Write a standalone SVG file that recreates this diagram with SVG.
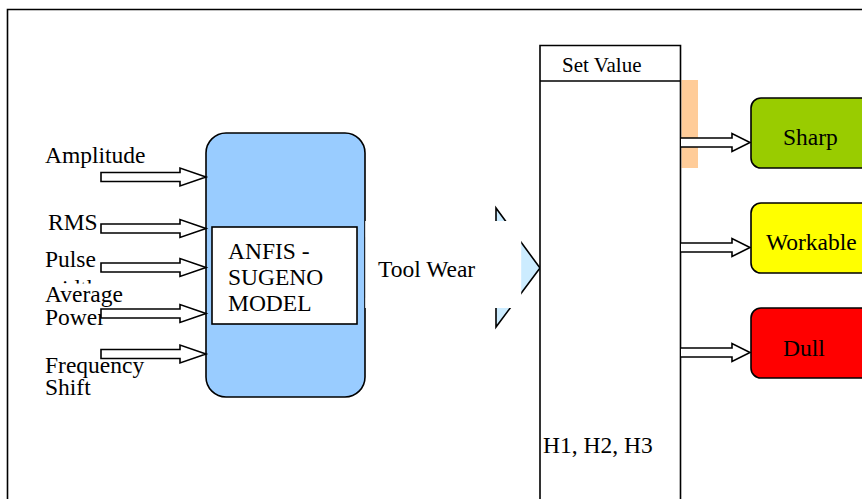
<svg xmlns="http://www.w3.org/2000/svg" width="862" height="499" viewBox="0 0 862 499">
<style>
.t{font-family:"Liberation Serif","Times New Roman",serif;font-size:23.5px;fill:#000}
.sv{font-size:21px}
.ln{stroke:#000;stroke-width:1.6;fill:none}
.arr{fill:#fff;stroke:#000;stroke-width:1.6;stroke-linejoin:miter}
</style>
<defs>
<clipPath id="clipW"><rect x="30" y="270" width="120" height="13.5"/></clipPath>
</defs>
<rect width="862" height="499" fill="#fff"/>
<g id="frame"><path class="ln" d="M7.5 510 V9.5 H880"/></g>

<g id="inputs">
<text class="t" x="45" y="163">Amplitude</text>
<text class="t" x="48" y="230">RMS</text>
<text class="t" x="45" y="267">Pulse</text>
<text class="t" x="45" y="296" clip-path="url(#clipW)">width</text>
<text class="t" x="45" y="302">Average</text>
<text class="t" x="45" y="325">Power</text>
<text class="t" x="45" y="373">Frequency</text>
<text class="t" x="45" y="395">Shift</text>
</g>

<g id="toolwear-arrow">
<path d="M365 238 H496 V208 L540 268 L496 327 V297 H365 Z" fill="#CCECFF" stroke="#000" stroke-width="1.6"/>
</g>

<g id="anfis">
<rect x="206" y="133" width="159" height="264" rx="20" ry="20" fill="#99CCFF" stroke="#000" stroke-width="1.6"/>
<rect x="212" y="227" width="145" height="97" fill="#fff" stroke="#000" stroke-width="1.6"/>
<text class="t" x="228" y="259">ANFIS -</text>
<text class="t" x="228" y="285">SUGENO</text>
<text class="t" x="228" y="311">MODEL</text>
</g>

<g id="toolwear-label">
<rect x="365.2" y="221" width="156" height="87" fill="#fff"/>
<text class="t" x="378" y="277">Tool Wear</text>
</g>

<g id="setvalue">
<rect x="681.5" y="80" width="16.5" height="88" fill="#FFCC99"/>
<path d="M540 510 V45.5 H680.5 V510" fill="#fff" stroke="#000" stroke-width="1.6"/>
<line class="ln" x1="540" y1="81" x2="680.5" y2="81"/>
<text class="t sv" x="562" y="72">Set Value</text>
<text class="t" x="543" y="453">H1, H2, H3</text>
</g>

<g id="connectors">
<path class="arr" d="M101 172.5 H180 V168 L206 177 L180 186 V181.5 H101 Z"/>
<path class="arr" d="M101 224 H180 V219.5 L206 228.5 L180 237.5 V233 H101 Z"/>
<path class="arr" d="M101 263 H180 V258.5 L206 267.5 L180 276.5 V272 H101 Z"/>
<path class="arr" d="M101 309 H180 V304.5 L206 313.5 L180 322.5 V318 H101 Z"/>
<path class="arr" d="M101 349.5 H180 V345 L206 354 L180 363 V358.5 H101 Z"/>
<path class="arr" d="M681 138 H732 V133.5 L750 142.5 L732 151.5 V147 H681"/>
<path class="arr" d="M681 243 H732 V238.5 L750 247.5 L732 256.5 V252 H681"/>
<path class="arr" d="M681 348 H732 V343.5 L750 352.5 L732 361.5 V357 H681"/>
</g>

<g id="sharp">
<rect x="751" y="98" width="160" height="70" rx="10" ry="10" fill="#99CC00" stroke="#000" stroke-width="1.6"/>
<text class="t" x="783" y="145">Sharp</text>
</g>
<g id="workable">
<rect x="751" y="203" width="160" height="70" rx="10" ry="10" fill="#FFFF00" stroke="#000" stroke-width="1.6"/>
<text class="t" x="766" y="250">Workable</text>
</g>
<g id="dull">
<rect x="751" y="308" width="160" height="70" rx="10" ry="10" fill="#FF0000" stroke="#000" stroke-width="1.6"/>
<text class="t" x="783" y="356">Dull</text>
</g>
</svg>
